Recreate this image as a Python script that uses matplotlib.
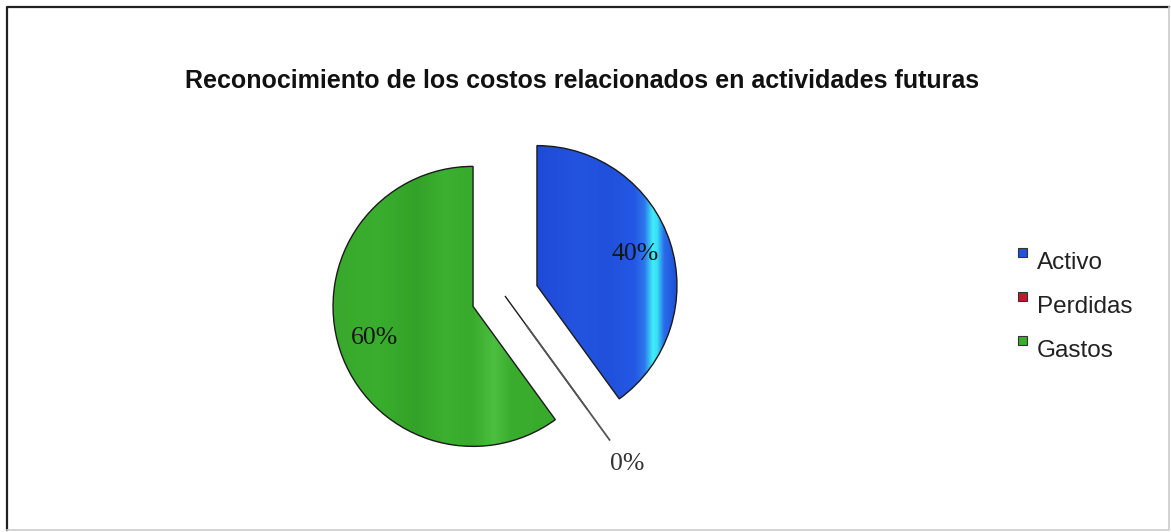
import numpy as np
import matplotlib
matplotlib.use("Agg")
import matplotlib.pyplot as plt
from matplotlib.patches import Rectangle
from matplotlib.colors import LinearSegmentedColormap

title = "Reconocimiento de los costos relacionados en actividades futuras"
categorias = ["Activo", "Perdidas", "Gastos"]
valores = [40, 0, 60]
colores = ["#2152dc", "#c0182c", "#3aac2c"]

W, H = 1171, 532
fig = plt.figure(figsize=(W / 100, H / 100), dpi=100)
ax = fig.add_axes([0, 0, 1, 1])

centro = (505, H - 296)
radio = 140
# pie() takes the explode offset in data units, so scale by the radius
explode = [0.24 * radio, 0.0, 0.24 * radio]

wedges, _, autotexts = ax.pie(
    valores, colors=colores, explode=explode, startangle=90,
    counterclock=False, center=centro, radius=radio,
    autopct=lambda p: "" if p < 1 else "%.0f%%" % p, pctdistance=0.74,
    wedgeprops=dict(edgecolor="#1a1a1a", linewidth=1.0),
    textprops=dict(family="Liberation Serif", fontsize=18.5, color="#151515"),
)

# vertical shading inside the slices, clipped to each wedge
sombras = {
    0: [(0.0, "#1f4ad8"), (0.3, "#2354e0"), (0.5, "#2050dc"), (0.7, "#2458e4"),
        (0.77, "#2c78ec"), (0.83, "#40eef8"), (0.86, "#38e0f6"),
        (0.91, "#2a6cea"), (1.0, "#1f4cd8")],
    2: [(0.0, "#38a82c"), (0.2, "#3aae2e"), (0.37, "#33a228"), (0.5, "#3cb030"),
        (0.62, "#38aa2c"), (0.72, "#4cbe40"), (0.8, "#3aac2e"), (1.0, "#38aa2c")],
}
for i, nodos in sombras.items():
    w = wedges[i]
    cx, cy = w.center
    r = w.r
    cmap = LinearSegmentedColormap.from_list("s%d" % i, nodos)
    grad = np.linspace(0, 1, 512)[None, :]
    if i == 0:
        ext = [cx, cx + r, cy - r, cy + r]
    else:
        ext = [cx - r, cx + r * 0.6, cy - r, cy + r]
    im = ax.imshow(grad, cmap=cmap, extent=ext, aspect="auto",
                   interpolation="bilinear", zorder=1.5)
    im.set_clip_path(w)
    w.set_zorder(2)
    w.set_facecolor("none")

for t in autotexts:
    t.set_zorder(3)

# leader line and label for the empty slice
ang = np.deg2rad(wedges[1].theta1)
d1, d2, d3 = 0.265 * radio, 1.27 * radio, 1.48 * radio
ax.plot([centro[0] + d1 * np.cos(ang), centro[0] + d2 * np.cos(ang)],
        [centro[1] + d1 * np.sin(ang), centro[1] + d2 * np.sin(ang)],
        color="#555555", lw=1.3, zorder=2)
ax.text(centro[0] + d3 * np.cos(ang), centro[1] + d3 * np.sin(ang),
        "%d%%" % valores[1], family="Liberation Serif", fontsize=18.5,
        color="#333333", ha="center", va="center")

ax.text(582, H - 81, title, family="Liberation Sans", fontweight="bold",
        fontsize=18, ha="center", va="center", color="#111111")

# legend
for k, (cat, col) in enumerate(zip(categorias, colores)):
    y = H - 257 - k * 44
    ax.add_patch(Rectangle((1018, y), 9, 9, facecolor=col, edgecolor="#333333",
                           lw=0.8))
    ax.text(1037, y - 6, cat, family="Liberation Sans", fontsize=17.5,
            color="#222222", va="center", ha="left")

# outer frame
ax.plot([7, 7, 1169], [H - 530, H - 7, H - 7], color="#222222", lw=1.6)
ax.plot([7, 1169, 1169], [H - 530, H - 530, H - 7], color="#cccccc", lw=1.2)

ax.set_xlim(0, W)
ax.set_ylim(0, H)
ax.set_aspect("equal")
ax.axis("off")

fig.savefig("out.png", dpi=100, facecolor="white")
